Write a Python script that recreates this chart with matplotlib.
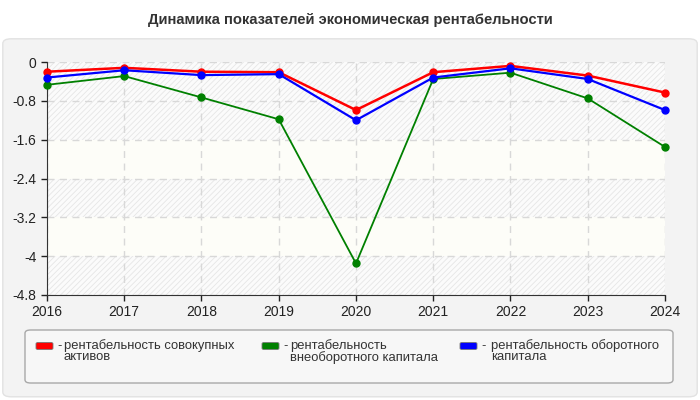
import matplotlib
matplotlib.use('Agg')
import matplotlib.pyplot as plt
from matplotlib.patches import FancyBboxPatch

plt.rcParams['font.family'] = ['Liberation Sans', 'DejaVu Sans']
plt.rcParams['hatch.linewidth'] = 0.6

years = [2016, 2017, 2018, 2019, 2020, 2021, 2022, 2023, 2024]
total_assets = [-0.20, -0.12, -0.20, -0.21, -0.99, -0.21, -0.08, -0.28, -0.63]
noncurrent = [-0.47, -0.29, -0.73, -1.18, -4.15, -0.35, -0.22, -0.75, -1.75]
current = [-0.32, -0.17, -0.27, -0.25, -1.20, -0.32, -0.13, -0.35, -0.99]

series_names = ['рентабельность совокупных\nактивов',
                'рентабельность\nвнеоборотного капитала',
                'рентабельность оборотного\nкапитала']
colors = ['#ff0000', '#008000', '#0000ff']
y_ticks = [0, -0.8, -1.6, -2.4, -3.2, -4, -4.8]
y_labels = ['0', '-0.8', '-1.6', '-2.4', '-3.2', '-4', '-4.8']

fig = plt.figure(figsize=(7, 4), dpi=100)
fig.patch.set_facecolor('white')

# outer panel
panel = FancyBboxPatch((0.004, 0.008), 0.992, 0.895,
                       boxstyle='round,pad=0,rounding_size=0.012',
                       transform=fig.transFigure, facecolor='#f3f3f3',
                       edgecolor='#e2e2e2', linewidth=1, zorder=-2)
fig.patches.append(panel)

fig.text(0.5, 0.95, 'Динамика показателей экономическая рентабельности',
         ha='center', va='center', fontsize=10.6, fontweight='bold',
         color='#333333')

ax = fig.add_axes([0.0671, 0.2625, 0.8829, 0.5825])
ax.set_zorder(1)
ax.set_facecolor('#fdfdf8')

# alternating bands
bands = [(0, -0.8, True), (-0.8, -1.6, True), (-1.6, -2.4, False),
         (-2.4, -3.2, True), (-3.2, -4.0, False), (-4.0, -4.8, True)]
for top, bot, hatched in bands:
    if hatched:
        ax.axhspan(bot, top, facecolor='#fbfbfb', edgecolor='#e6e6e6',
                   hatch='//////', linewidth=0, zorder=0)

ax.set_xlim(2016, 2024)
ax.set_ylim(-4.8, 0)
ax.set_xticks(years)
ax.set_yticks(y_ticks)
ax.set_yticklabels(y_labels)
ax.tick_params(labelsize=10, colors='#222222', length=4, width=1)
ax.grid(True, color='#d8d8d8', linestyle=(0, (5, 4)), linewidth=1)
ax.set_axisbelow(True)
for s in ['top', 'right']:
    ax.spines[s].set_visible(False)
for s in ['left', 'bottom']:
    ax.spines[s].set_color('#333333')

widths = [1.8, 1.3, 1.6]
for vals, c, w in zip([total_assets, noncurrent, current], colors, widths):
    ax.plot(years, vals, color=c, linewidth=w, marker='o', markersize=5,
            clip_on=False, zorder=3)

# legend box
leg = FancyBboxPatch((25 / 700, 1 - 383 / 400), 648 / 700, 53 / 400,
                     boxstyle='round,pad=0,rounding_size=0.008',
                     transform=fig.transFigure, facecolor='#f7f7f7',
                     edgecolor='#a8a8a8', linewidth=1, zorder=-1)
fig.patches.append(leg)

patch_x = [36, 262, 460]
text_x = [64, 290, 491]
for px, tx, c, name in zip(patch_x, text_x, colors, series_names):
    sw = FancyBboxPatch((px / 700, 1 - 349.5 / 400), 17 / 700, 7 / 400,
                        boxstyle='round,pad=0,rounding_size=0.003',
                        transform=fig.transFigure, facecolor=c,
                        edgecolor='#777777', linewidth=0.6, zorder=0)
    fig.patches.append(sw)
    fig.text((px + 21) / 700, 1 - 346 / 400, '-', ha='left', va='center',
             fontsize=9.4, color='#333333')
    fig.text(tx / 700, 1 - 339 / 400, name, ha='left', va='top',
             fontsize=9.4, color='#333333', linespacing=0.95)

fig.savefig('out.png', dpi=100)
